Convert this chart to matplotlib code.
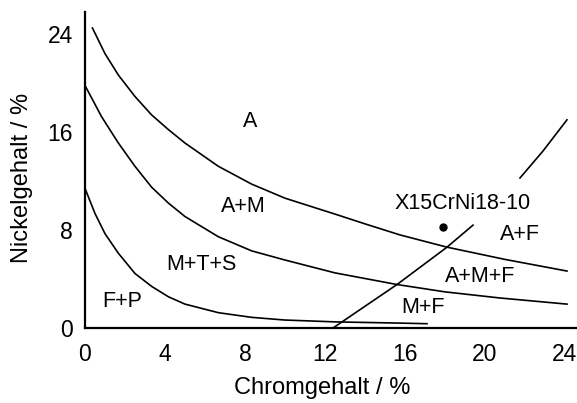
import matplotlib
matplotlib.use("Agg")
import matplotlib.pyplot as plt

plt.rcParams['font.family'] = ['Liberation Sans', 'DejaVu Sans']

# phase boundaries (Chrom %, Nickel %)
a_cr = [0.37, 1.0, 1.67, 2.5, 3.33, 4.17, 5.0, 6.67, 8.33, 10.0, 12.5, 14.1, 15.75, 18.1, 21.0, 24.1]
a_ni = [24.5, 22.4, 20.65, 18.9, 17.4, 16.2, 15.1, 13.2, 11.75, 10.6, 9.3, 8.45, 7.6, 6.6, 5.6, 4.65]

m_cr = [0.0, 0.83, 1.67, 2.5, 3.33, 4.17, 5.0, 6.67, 8.33, 10.0, 12.5, 15.6, 18.0, 20.75, 24.1]
m_ni = [19.8, 17.25, 15.1, 13.2, 11.5, 10.2, 9.1, 7.45, 6.3, 5.55, 4.5, 3.55, 2.95, 2.45, 1.95]

f_cr = [0.0, 0.5, 1.0, 1.67, 2.5, 3.33, 4.17, 5.0, 6.67, 8.33, 10.0, 12.5, 15.75, 17.1]
f_ni = [11.4, 9.35, 7.7, 6.1, 4.45, 3.4, 2.55, 1.95, 1.25, 0.87, 0.65, 0.5, 0.4, 0.35]

# ferrite boundary, two pieces
fl_cr = [12.4, 15.6, 18.1, 19.4]
fl_ni = [0.0, 3.55, 6.6, 8.4]
fu_cr = [21.75, 22.9, 24.1]
fu_ni = [12.25, 14.45, 17.0]

# steel point
steel_cr, steel_ni = 17.9, 8.25
steel_name = "X15CrNi18-10"

regions = ["A", "A+M", "M+T+S", "F+P", "A+F", "A+M+F", "M+F"]
reg_cr = [8.25, 7.9, 5.83, 1.87, 21.75, 19.75, 16.9]
reg_ni = [16.85, 9.9, 5.15, 2.15, 7.6, 4.2, 1.7]

fig = plt.figure(figsize=(5.77, 4.03), dpi=100)
ax = fig.add_axes([0.1473, 0.1861, 0.8527, 0.7841])

for xs, ys in [(a_cr, a_ni), (m_cr, m_ni), (f_cr, f_ni), (fl_cr, fl_ni), (fu_cr, fu_ni)]:
    ax.plot(xs, ys, color='black', lw=1.2, solid_joinstyle='round')

ax.plot(steel_cr, steel_ni, 'o', color='black', ms=5)
ax.text(18.9, 10.2, steel_name, fontsize=15.5, ha='center', va='center')

for name, x, y in zip(regions, reg_cr, reg_ni):
    ax.text(x, y, name, fontsize=15.5, ha='center', va='center')

ax.set_xlim(0, 24.6)
ax.set_ylim(0, 25.8)
ax.set_xticks([0, 4, 8, 12, 16, 20, 24])
ax.set_yticks([0, 8, 16, 24])
ax.tick_params(length=0, labelsize=16.5)
ax.tick_params(axis='x', pad=11)
ax.tick_params(axis='y', pad=8.5)
for s in ['top', 'right']:
    ax.spines[s].set_visible(False)
for s in ['left', 'bottom']:
    ax.spines[s].set_linewidth(1.6)

fig.text(0.558, 1 - 388 / 403, "Chromgehalt / %", fontsize=17, ha='center', va='center')
fig.text(0.038, 1 - 178 / 403, "Nickelgehalt / %", fontsize=17, ha='center', va='center',
         rotation=90)

fig.savefig("out.png", dpi=100)
